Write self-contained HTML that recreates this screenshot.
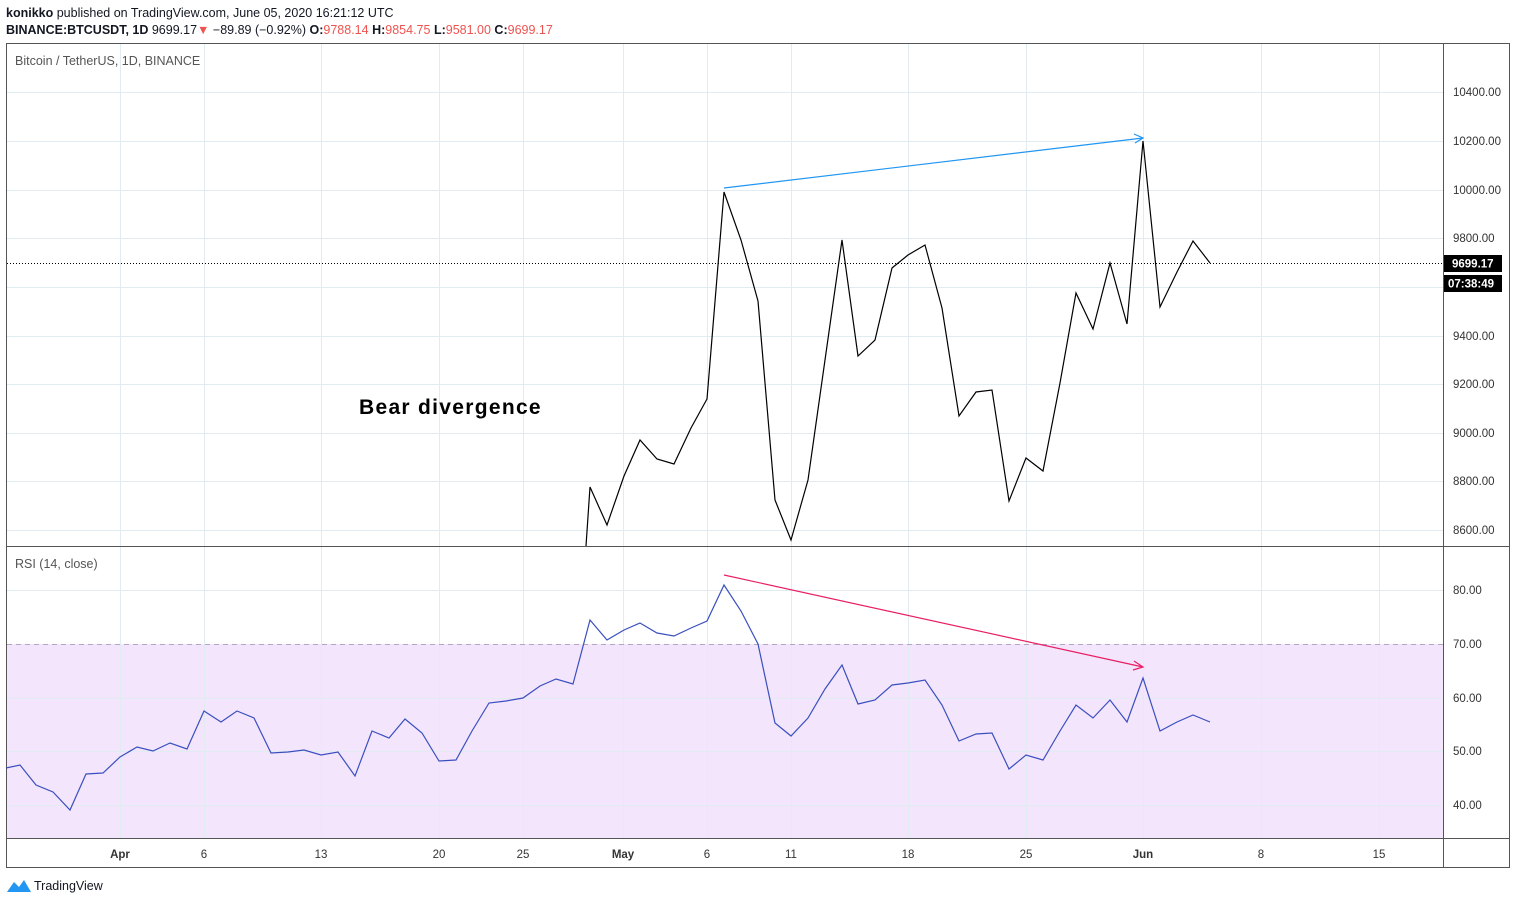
<!DOCTYPE html>
<html><head><meta charset="utf-8"><style>
body{margin:0;background:#fff;width:1516px;height:904px;overflow:hidden;font-family:"Liberation Sans",sans-serif}
</style></head><body>
<svg width="1516" height="904" xmlns="http://www.w3.org/2000/svg" font-family="Liberation Sans, sans-serif">
<text x="6" y="17" font-size="12.5" fill="#131722"><tspan font-weight="bold">konikko</tspan> published on TradingView.com, June 05, 2020 16:21:12 UTC</text>
<text x="6" y="34" font-size="12.5" fill="#131722"><tspan font-weight="bold">BINANCE:BTCUSDT, 1D</tspan> 9699.17<tspan fill="#ef5350">▼</tspan> −89.89 (−0.92%) <tspan font-weight="bold">O:</tspan><tspan fill="#ef5350">9788.14</tspan> <tspan font-weight="bold">H:</tspan><tspan fill="#ef5350">9854.75</tspan> <tspan font-weight="bold">L:</tspan><tspan fill="#ef5350">9581.00</tspan> <tspan font-weight="bold">C:</tspan><tspan fill="#ef5350">9699.17</tspan></text>
<rect x="7" y="644" width="1436" height="194" fill="#f3e5fc"/>
<g stroke="#e1ecf2" stroke-width="1">
<line x1="120.5" y1="44" x2="120.5" y2="838"/><line x1="204.5" y1="44" x2="204.5" y2="838"/><line x1="321.5" y1="44" x2="321.5" y2="838"/><line x1="439.5" y1="44" x2="439.5" y2="838"/><line x1="523.5" y1="44" x2="523.5" y2="838"/><line x1="623.5" y1="44" x2="623.5" y2="838"/><line x1="707.5" y1="44" x2="707.5" y2="838"/><line x1="791.5" y1="44" x2="791.5" y2="838"/><line x1="908.5" y1="44" x2="908.5" y2="838"/><line x1="1026.5" y1="44" x2="1026.5" y2="838"/><line x1="1143.5" y1="44" x2="1143.5" y2="838"/><line x1="1261.5" y1="44" x2="1261.5" y2="838"/><line x1="1379.5" y1="44" x2="1379.5" y2="838"/>
<line x1="7" y1="92.5" x2="1443" y2="92.5"/><line x1="7" y1="141.5" x2="1443" y2="141.5"/><line x1="7" y1="190.5" x2="1443" y2="190.5"/><line x1="7" y1="238.5" x2="1443" y2="238.5"/><line x1="7" y1="287.5" x2="1443" y2="287.5"/><line x1="7" y1="336.5" x2="1443" y2="336.5"/><line x1="7" y1="384.5" x2="1443" y2="384.5"/><line x1="7" y1="433.5" x2="1443" y2="433.5"/><line x1="7" y1="481.5" x2="1443" y2="481.5"/><line x1="7" y1="530.5" x2="1443" y2="530.5"/>
<line x1="7" y1="590.5" x2="1443" y2="590.5"/><line x1="7" y1="698.5" x2="1443" y2="698.5"/><line x1="7" y1="751.5" x2="1443" y2="751.5"/><line x1="7" y1="805.5" x2="1443" y2="805.5"/>
</g>
<line x1="7" y1="644.5" x2="1443" y2="644.5" stroke="#b5a5c5" stroke-dasharray="5,4"/>
<rect x="6.5" y="43.5" width="1503" height="824" fill="none" stroke="#555"/>
<line x1="1443.5" y1="43" x2="1443.5" y2="868" stroke="#555"/>
<line x1="6" y1="546.5" x2="1510" y2="546.5" stroke="#555"/>
<line x1="6" y1="838.5" x2="1510" y2="838.5" stroke="#555"/>
<text x="15" y="65" font-size="12.5" fill="#555">Bitcoin / TetherUS, 1D, BINANCE</text>
<text x="15" y="568" font-size="12.5" fill="#555">RSI (14, close)</text>
<text x="359" y="414" font-size="21" font-weight="bold" fill="#000" letter-spacing="1.3">Bear divergence</text>
<polyline fill="none" stroke="#000" stroke-width="1.2" points="586,546 590,487 607,525 624,476 640,440 657,459 674,464 691,428 707,399 724,192 741,240 758,301 775,500 791,540 808,480 825,360 842,240 858,356 875,340 892,268 908,255 925,245 942,308 959,416 976,392 992,390 1009,501 1026,458 1043,471 1060,383 1076,293 1093,329 1110,263 1127,324 1143,141 1160,307 1177,272 1193,241 1210,263"/>
<line x1="7" y1="263.5" x2="1443" y2="263.5" stroke="#000" stroke-dasharray="1,2"/>
<polyline fill="none" stroke="#3a4fbf" stroke-width="1.2" points="6,768 20,765 36,785 53,792 70,810 86,774 103,773 120,757 137,747 153,751 170,743 187,749 204,711 221,722 237,711 254,718 271,753 288,752 304,750 321,755 338,752 355,776 372,731 389,738 405,719 422,733 439,761 456,760 472,731 489,703 506,701 523,698 540,686 556,679 573,684 590,620 607,640 624,630 640,623 657,633 674,636 691,628 707,621 724,585 741,611 758,644 775,723 791,736 808,718 825,689 842,665 858,704 875,700 892,685 908,683 925,680 942,705 959,741 976,734 992,733 1009,769 1026,755 1043,760 1060,731 1076,705 1093,718 1110,700 1127,722 1143,678 1160,731 1177,722 1193,715 1210,722"/>
<g stroke="#2196f3" stroke-width="1.2" fill="none"><line x1="724" y1="188" x2="1143" y2="138"/><polyline points="1134,134 1143,138 1135,143"/></g>
<g stroke="#e91e63" stroke-width="1.2" fill="none"><line x1="724" y1="575" x2="1143" y2="667"/><polyline points="1134,661 1143,667 1133,670"/></g>
<g font-size="11.5" fill="#333">
<text x="1453" y="96">10400.00</text><text x="1453" y="145">10200.00</text><text x="1453" y="194">10000.00</text><text x="1453" y="242">9800.00</text><text x="1453" y="340">9400.00</text><text x="1453" y="388">9200.00</text><text x="1453" y="437">9000.00</text><text x="1453" y="485">8800.00</text><text x="1453" y="534">8600.00</text>
<text x="1453" y="594">80.00</text><text x="1453" y="648">70.00</text><text x="1453" y="702">60.00</text><text x="1453" y="755">50.00</text><text x="1453" y="809">40.00</text>
</g>
<rect x="1444" y="255" width="58" height="17" fill="#000"/><text x="1452" y="267.5" font-size="11.5" font-weight="bold" fill="#fff">9699.17</text>
<rect x="1444" y="275" width="58" height="17" fill="#000"/><text x="1448" y="287.5" font-size="11.5" font-weight="bold" fill="#fff">07:38:49</text>
<g font-size="11.5" fill="#333" text-anchor="middle">
<text x="120" y="858" font-weight="bold">Apr</text><text x="204" y="858">6</text><text x="321" y="858">13</text><text x="439" y="858">20</text><text x="523" y="858">25</text><text x="623" y="858" font-weight="bold">May</text><text x="707" y="858">6</text><text x="791" y="858">11</text><text x="908" y="858">18</text><text x="1026" y="858">25</text><text x="1143" y="858" font-weight="bold">Jun</text><text x="1261" y="858">8</text><text x="1379" y="858">15</text>
</g>
<path d="M7,892 L14,882 L19,887 L24,880 L31,892 Z" fill="#2196f3"/>
<text x="34" y="890" font-size="12.5" fill="#131722">TradingView</text>
</svg>
</body></html>
